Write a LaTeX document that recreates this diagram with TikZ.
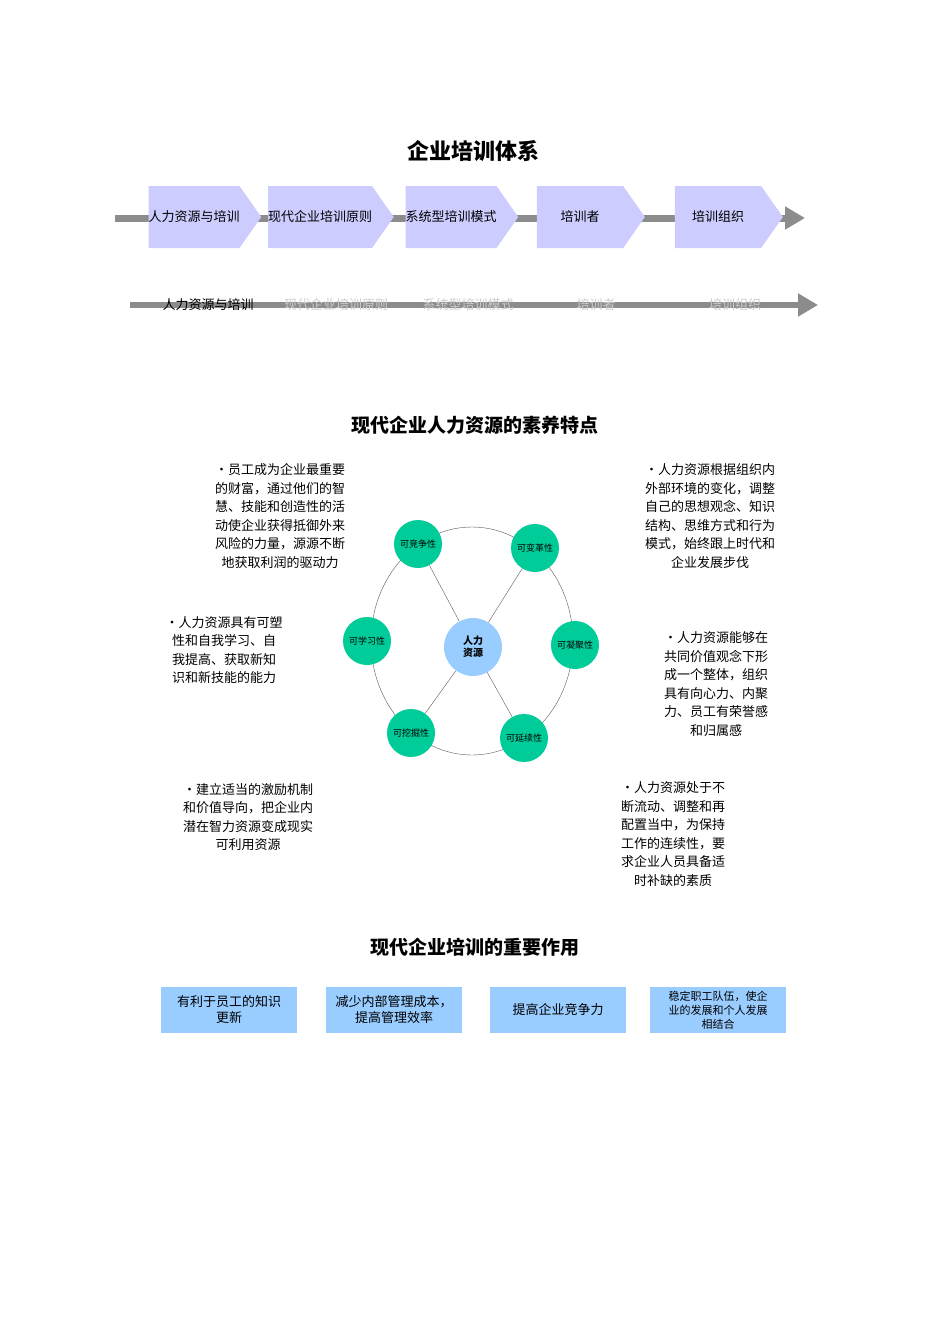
\documentclass[tikz,border=0pt]{standalone}
\usepackage{fontspec}
\setmainfont{Liberation Sans}
\newfontfamily\cjk{Noto Sans CJK SC}
\usetikzlibrary{shapes.symbols, arrows.meta}
\definecolor{chev}{HTML}{CCCCFF}
\definecolor{boxblue}{HTML}{99CCFF}
\definecolor{ballgreen}{HTML}{00CC99}
\definecolor{hubblue}{HTML}{99CCFF}
\tikzset{
    stage/.style={
        signal, signal to=east, signal pointer angle=110,
        fill=chev, minimum width=108pt, minimum height=62pt,
        inner sep=0pt, font=\cjk\fontsize{13}{15}\selectfont
    },
    faded/.style={font=\cjk\fontsize{13}{15}\selectfont, text=gray!40},
    title/.style={font=\cjk\bfseries\fontsize{22}{26}\selectfont},
    note/.style={align=center, font=\cjk\fontsize{13}{18.5}\selectfont},
    trait/.style={circle, fill=ballgreen, minimum size=48pt, inner sep=0pt,
        font=\cjk\fontsize{9}{10}\selectfont},
    role/.style={fill=boxblue, minimum width=136pt, minimum height=46pt,
        align=center, inner sep=1pt, font=\cjk\fontsize{13}{16}\selectfont}
}
\begin{document}
\begin{tikzpicture}[x=1pt, y=-1pt]
    \useasboundingbox (0,0) rectangle (950,1344);

    % Title and stages
    \node [title] (maintitle) at (473,151) {企业培训体系};
    \coordinate (barstart) at (115,218);
    \coordinate (barend) at (805,218);
    \draw [line width=7pt, gray!90, -{Triangle[length=20pt, width=22pt]}] (barstart) -- (barend);
    \node [stage] (s1) at (194,217) {人力资源与培训};
    \node [stage] (s2) at (320,217) {现代企业培训原则};
    \node [stage] (s3) at (451,217) {系统型培训模式};
    \node [stage] (s4) at (580,217) {培训者};
    \node [stage] (s5) at (718,217) {培训组织};

    % Faded timeline
    \coordinate (linestart) at (130,305);
    \coordinate (lineend) at (818,305);
    \draw [line width=6pt, gray!90, -{Triangle[length=20pt, width=22pt]}] (linestart) -- (lineend);
    \node [faded, text=black] (f1) at (208,305) {人力资源与培训};
    \node [faded] (f2) at (336,305) {现代企业培训原则};
    \node [faded] (f3) at (468,305) {系统型培训模式};
    \node [faded] (f4) at (596,305) {培训者};
    \node [faded] (f5) at (735,305) {培训组织};

    % Traits of human resources
    \node [title, font=\cjk\bfseries\fontsize{19}{22}\selectfont] (traittitle) at (475,425) {现代企业人力资源的素养特点};
    \draw [gray!70!black] (472,641) ellipse (101pt and 114pt);
    \node [circle, fill=hubblue, minimum size=58pt, inner sep=0pt, align=center,
        font=\cjk\bfseries\fontsize{10}{12}\selectfont] (hub) at (473,647) {人力\\资源};
    \node [trait] (compete) at (418,544) {可竞争性};
    \node [trait] (reform) at (535,548) {可变革性};
    \node [trait] (unite) at (575,645) {可凝聚性};
    \node [trait] (extend) at (524,738) {可延续性};
    \node [trait] (mine) at (411,733) {可挖掘性};
    \node [trait] (learn) at (367,641) {可学习性};
    \foreach \t in {compete, reform, extend, mine}
        \draw [gray!70!black] (hub) -- (\t);

    \node [note] (n1) at (280,516) {•员工成为企业最重要\\的财富，通过他们的智\\慧、技能和创造性的活\\动使企业获得抵御外来\\风险的力量，源源不断\\地获取利润的驱动力};
    \node [note] (n2) at (710,516) {•人力资源根据组织内\\外部环境的变化，调整\\自己的思想观念、知识\\结构、思维方式和行为\\模式，始终跟上时代和\\企业发展步伐};
    \node [note] (n3) at (224,650) {•人力资源具有可塑\\性和自我学习、自\\我提高、获取新知\\识和新技能的能力};
    \node [note] (n4) at (716,684) {•人力资源能够在\\共同价值观念下形\\成一个整体，组织\\具有向心力、内聚\\力、员工有荣誉感\\和归属感};
    \node [note] (n5) at (248,817) {•建立适当的激励机制\\和价值导向，把企业内\\潜在智力资源变成现实\\可利用资源};
    \node [note] (n6) at (673,834) {•人力资源处于不\\断流动、调整和再\\配置当中，为保持\\工作的连续性，要\\求企业人员具备适\\时补缺的素质};

    % Roles of training
    \node [title, font=\cjk\bfseries\fontsize{19}{22}\selectfont] (roletitle) at (475,947) {现代企业培训的重要作用};
    \node [role] (r1) at (229,1010) {有利于员工的知识\\更新};
    \node [role] (r2) at (394,1010) {减少内部管理成本，\\提高管理效率};
    \node [role] (r3) at (558,1010) {提高企业竞争力};
    \node [role, font=\cjk\fontsize{11}{14}\selectfont] (r4) at (718,1010) {稳定职工队伍，使企\\业的发展和个人发展\\相结合};
\end{tikzpicture}
\end{document}
